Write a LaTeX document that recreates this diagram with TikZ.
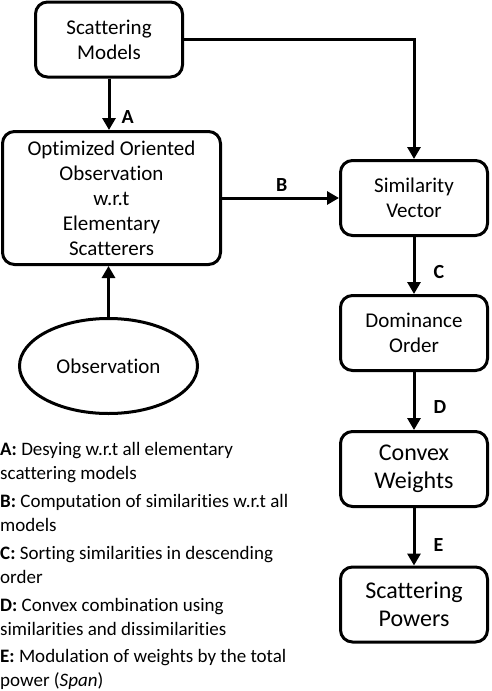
\documentclass[tikz,border=0pt]{standalone}
\usepackage{fontspec}
\setmainfont{Carlito}[Ligatures=NoCommon]
\usetikzlibrary{arrows.meta,shapes.geometric}

\begin{document}
\begin{tikzpicture}[x=1pt,y=-1pt,
		box/.style={draw,line width=3pt,rounded corners=12pt,align=center,inner sep=2pt,
			font=\fontsize{21}{25}\selectfont,minimum width=147pt,minimum height=75pt},
		bigbox/.style={box,font=\fontsize{24}{28.5}\selectfont},
		flow/.style={line width=3pt,-{Triangle[length=12pt,width=13pt]}},
		lbl/.style={font=\fontsize{20}{24}\selectfont\bfseries,inner sep=0pt},
		legend/.style={anchor=base west,align=left,inner sep=0pt,font=\fontsize{19}{24}\selectfont}]
		\useasboundingbox (0,0) rectangle (492,691);
		% left column
		\node[box] (models) at (109,39.5) {Scattering\\Models};
		\node[box,minimum width=218pt,minimum height=133pt] (optim) at (111.5,198)
			{Optimized Oriented\\Observation\\w.r.t\\Elementary\\Scatterers};
		\node[draw,ellipse,line width=3pt,minimum width=178pt,minimum height=95pt,
			font=\fontsize{21}{25}\selectfont] (obs) at (108.5,366) {Observation};
		% right column
		\node[box] (simil) at (414,198) {Similarity\\Vector};
		\node[box] (domin) at (414,333) {Dominance\\Order};
		\node[bigbox] (convex) at (414,469) {Convex\\Weights};
		\node[bigbox] (powers) at (414,604.5) {Scattering\\Powers};
		% connectors
		\draw[flow] (models.south) -- node[lbl,right=11pt,pos=0.75] {A} (models.south |- optim.north);
		\draw[flow] (models.east) -| (simil.north);
		\draw[flow] (obs.north) -- (obs.north |- optim.south);
		\draw[flow] (optim.east) -- node[lbl,above=5pt,pos=0.51] {B} (simil.west);
		\draw[flow] (simil.south) -- node[lbl,right=18pt,pos=0.62] {C} (domin.north);
		\draw[flow] (domin.south) -- node[lbl,right=18pt,pos=0.61] {D} (convex.north);
		\draw[flow] (convex.south) -- node[lbl,right=18pt,pos=0.65] {E} (powers.north);
		% legend (base = last line)
		\node[legend] (legA) at (0,479) {\textbf{A:} Desying w.r.t all elementary\\scattering models};
		\node[legend] (legB) at (0,531) {\textbf{B:} Computation of similarities w.r.t all\\models};
		\node[legend] (legC) at (0,583) {\textbf{C:} Sorting similarities in descending\\order};
		\node[legend] (legD) at (0,635) {\textbf{D:} Convex combination using\\similarities and dissimilarities};
		\node[legend] (legE) at (0,686) {\textbf{E:} Modulation of weights by the total\\power (\textit{Span})};
	\end{tikzpicture}
\end{document}
